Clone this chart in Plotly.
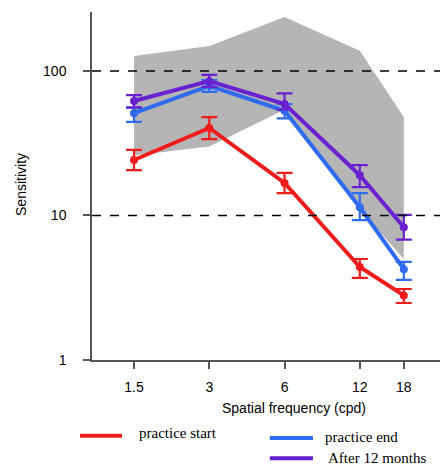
import plotly.graph_objects as go

freq = [1.5, 3, 6, 12, 18]
freq_labels = ["1.5", "3", "6", "12", "18"]

start_val = [24.2, 40.3, 16.8, 4.4, 2.8]
start_hi = [28.4, 48.0, 19.7, 5.0, 3.1]
start_lo = [20.6, 33.8, 14.3, 3.7, 2.48]

end_val = [51.0, 79.0, 53.0, 11.4, 4.25]
end_hi = [55.6, 86.6, 59.0, 14.3, 4.77]
end_lo = [44.4, 71.7, 47.0, 9.3, 3.58]

m12_val = [62.0, 85.0, 59.0, 19.0, 8.3]
m12_hi = [68.0, 93.9, 70.0, 22.3, 10.1]
m12_lo = [56.0, 77.6, 54.0, 15.7, 6.8]

band_top = [127, 149, 236, 138, 48]
band_bottom = [26, 30, 54, 11, 5]

ref_levels = [10, 100]

RED = "#f01c1c"
BLUE = "#2e6bf0"
PURPLE = "#6a21d0"
GRAY = "#b5b5b5"

fig = go.Figure()

fig.add_trace(go.Scatter(
    x=freq + freq[::-1], y=band_top + band_bottom[::-1],
    fill="toself", fillcolor=GRAY, line=dict(width=0), mode="lines",
    hoverinfo="skip", showlegend=False))


def series(vals, hi, lo, color, name):
    fig.add_trace(go.Scatter(
        x=freq, y=vals, name=name, mode="lines+markers",
        line=dict(color=color, width=4),
        marker=dict(color=color, size=8),
        error_y=dict(type="data", symmetric=False,
                     array=[h - v for h, v in zip(hi, vals)],
                     arrayminus=[v - l for v, l in zip(vals, lo)],
                     color=color, thickness=2.2, width=8),
        showlegend=False))


series(start_val, start_hi, start_lo, RED, "practice start")
series(end_val, end_hi, end_lo, BLUE, "practice end")
series(m12_val, m12_hi, m12_lo, PURPLE, "After 12 months")

shapes = []
for lv in ref_levels:
    shapes.append(dict(type="line", xref="paper", x0=0, x1=1, yref="y", y0=lv, y1=lv,
                       line=dict(color="black", width=1.6, dash="dash"), layer="above"))

legend_items = [
    ("practice start", RED, -0.0345, 0.0862, -0.218, 0.129, -0.210),
    ("practice end", BLUE, 0.511, 0.635, -0.224, 0.664, -0.221),
    ("After 12 months", PURPLE, 0.511, 0.635, -0.282, 0.672, -0.282),
]
annotations = []
for name, color, lx0, lx1, ly, tx, ty in legend_items:
    shapes.append(dict(type="line", xref="paper", yref="paper", x0=lx0, x1=lx1, y0=ly, y1=ly,
                       line=dict(color=color, width=4)))
    annotations.append(dict(xref="paper", yref="paper", x=tx, y=ty, text=name, showarrow=False,
                            xanchor="left", yanchor="middle",
                            font=dict(family="Liberation Serif", size=15, color="black")))

annotations.append(dict(xref="paper", yref="paper", x=0.58, y=-0.138,
                        text="Spatial frequency (cpd)", showarrow=False,
                        xanchor="center", yanchor="middle",
                        font=dict(family="Liberation Sans", size=14, color="black")))
annotations.append(dict(xref="paper", yref="paper", x=-0.204, y=0.503,
                        text="Sensitivity", showarrow=False, textangle=-90,
                        xanchor="center", yanchor="middle",
                        font=dict(family="Liberation Sans", size=14, color="black")))

fig.update_layout(
    width=440, height=468,
    margin=dict(l=92, r=0, t=12, b=108),
    paper_bgcolor="white", plot_bgcolor="white",
    font=dict(family="Liberation Sans", size=14, color="black"),
    shapes=shapes, annotations=annotations,
    xaxis=dict(type="log", range=[0.008, 1.40], tickvals=freq, ticktext=freq_labels,
               showgrid=False, zeroline=False, showline=True, linecolor="#555", linewidth=1.5,
               ticks="outside", ticklen=7, tickwidth=1.5, tickcolor="#555",
               ticklabelstandoff=6),
    yaxis=dict(type="log", range=[0, 2.408], tickvals=[1, 10, 100], ticktext=["1", "10", "100"],
               showgrid=False, zeroline=False, showline=True, linecolor="#555", linewidth=1.5,
               ticks="outside", ticklen=7, tickwidth=1.5, tickcolor="#555",
               ticklabelstandoff=14),
)

fig.write_html("out.html")
